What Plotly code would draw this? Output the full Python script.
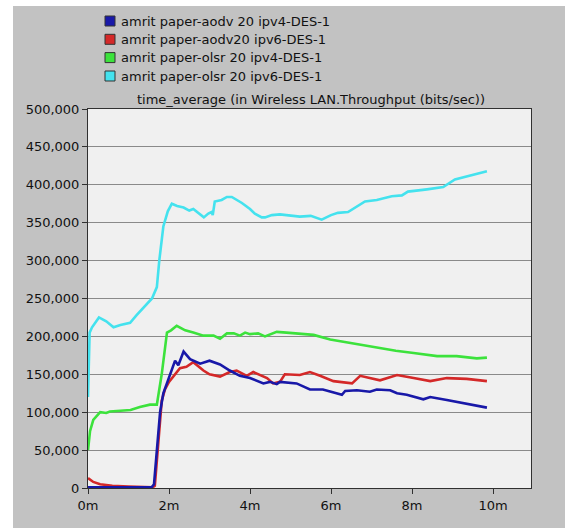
import plotly.graph_objects as go

# ---- data (time in minutes, throughput in bits/sec) ----
series_names = [
    "amrit paper-aodv 20 ipv4-DES-1",
    "amrit paper-aodv20 ipv6-DES-1",
    "amrit paper-olsr 20 ipv4-DES-1",
    "amrit paper-olsr 20 ipv6-DES-1",
]
series_colors = ["#1818a8", "#d42828", "#3ce23c", "#44e2ee"]

aodv_v4_t = [0, 0.5, 1.0, 1.57, 1.63, 1.7, 1.78, 1.86, 1.98, 2.15, 2.23, 2.36, 2.52, 2.77, 3.0,
             3.26, 3.5, 3.75, 4.0, 4.33, 4.49, 4.66, 4.74, 5.15, 5.48, 5.8, 6.27, 6.35, 6.64,
             6.96, 7.13, 7.46, 7.63, 7.87, 8.28, 8.45, 8.86, 9.35, 9.85]
aodv_v4_v = [1000, 1000, 1000, 1000, 5000, 50000, 100000, 125000, 142000, 168000, 162000, 180000,
             170000, 164000, 168000, 163000, 155000, 148000, 145000, 138000, 140000, 137000,
             140000, 138000, 130000, 130000, 123000, 128000, 129000, 127000, 130000, 129000,
             125000, 123000, 117000, 120000, 116000, 111000, 106000]

aodv_v6_t = [0, 0.13, 0.3, 0.6, 1.0, 1.6, 1.65, 1.73, 1.82, 1.9, 2.0, 2.27, 2.43, 2.6, 2.85, 3.0,
             3.26, 3.5, 3.67, 3.92, 4.08, 4.42, 4.57, 4.74, 4.86, 5.23, 5.48, 5.73, 6.06, 6.52,
             6.72, 7.21, 7.63, 8.04, 8.45, 8.86, 9.35, 9.85]
aodv_v6_v = [13000, 8000, 5000, 3000, 2000, 1000, 3000, 60000, 115000, 130000, 140000, 158000,
             160000, 166000, 155000, 150000, 147000, 153000, 155000, 148000, 153000, 145000,
             138000, 140000, 150000, 149000, 153000, 148000, 141000, 138000, 148000, 142000,
             149000, 145000, 141000, 145000, 144000, 141000]

olsr_v4_t = [0, 0.05, 0.13, 0.3, 0.45, 0.54, 0.8, 1.0, 1.05, 1.28, 1.53, 1.7, 1.82, 1.95, 2.05,
             2.19, 2.4, 2.6, 2.85, 3.1, 3.26, 3.43, 3.6, 3.75, 3.88, 4.0, 4.2, 4.37, 4.66, 4.9,
             5.2, 5.57, 5.98, 6.3, 6.72, 7.21, 7.6, 8.04, 8.62, 9.1, 9.6, 9.85]
olsr_v4_v = [50000, 75000, 90000, 100000, 99000, 101000, 102000, 102000, 103000, 107000, 110000,
             110000, 150000, 205000, 208000, 214000, 208000, 205000, 201000, 201000, 197000,
             204000, 204000, 201000, 205000, 203000, 204000, 200000, 206000, 205000, 204000,
             202000, 196000, 193000, 189000, 184000, 181000, 178000, 174000, 174000, 171000,
             172000]

olsr_v6_t = [0, 0.04, 0.1, 0.27, 0.45, 0.63, 0.8, 1.04, 1.2, 1.4, 1.58, 1.7, 1.76, 1.86, 1.97,
             2.07, 2.2, 2.36, 2.5, 2.6, 2.75, 2.86, 2.97, 3.05, 3.08, 3.13, 3.3, 3.43, 3.55, 3.8,
             4.0, 4.12, 4.29, 4.37, 4.54, 4.74, 4.9, 5.23, 5.5, 5.77, 6.0, 6.17, 6.42, 6.6, 6.84,
             7.13, 7.5, 7.75, 7.9, 8.37, 8.77, 9.06, 9.35, 9.6, 9.85]
olsr_v6_v = [120000, 205000, 212000, 225000, 220000, 212000, 215000, 218000, 228000, 240000,
             250000, 265000, 300000, 345000, 365000, 375000, 372000, 370000, 366000, 368000,
             362000, 357000, 362000, 364000, 360000, 378000, 380000, 384000, 384000, 376000,
             368000, 362000, 357000, 357000, 360000, 361000, 360000, 358000, 359000, 354000,
             360000, 363000, 364000, 370000, 378000, 380000, 385000, 386000, 391000, 394000,
             397000, 407000, 411000, 414000, 418000]

x_tick_vals = [0, 2, 4, 6, 8, 10]
x_tick_text = ["0m", "2m", "4m", "6m", "8m", "10m"]
y_tick_vals = [0, 50000, 100000, 150000, 200000, 250000, 300000, 350000, 400000, 450000, 500000]
y_tick_text = ["0", "50,000", "100,000", "150,000", "200,000", "250,000", "300,000",
               "350,000", "400,000", "450,000", "500,000"]
chart_title = "time_average (in Wireless LAN.Throughput (bits/sec))"

# ---- geometry ----
W, H = 567, 528
L, R, T, B = 88, 531, 109, 488
pw, ph = R - L, B - T

def px_x(x):
    return (x - L) / pw

def px_y(y):
    return (B - y) / ph

FONT = "DejaVu Sans, Verdana, sans-serif"
FS = 13

fig = go.Figure()
all_t = [aodv_v4_t, aodv_v6_t, olsr_v4_t, olsr_v6_t]
all_v = [aodv_v4_v, aodv_v6_v, olsr_v4_v, olsr_v6_v]
draw_order = [3, 2, 1, 0]
for i in draw_order:
    fig.add_trace(go.Scatter(x=all_t[i], y=all_v[i], mode="lines", name=series_names[i],
                             line=dict(color=series_colors[i], width=2.6),
                             showlegend=False, hoverinfo="skip"))

white_edge = dict(type="rect", xref="paper", yref="paper", layer="above",
                  fillcolor="white", line=dict(width=0))
shapes = [
    # thin white margins around the gray panel
    dict(white_edge, x0=px_x(0), x1=px_x(W), y0=px_y(6), y1=px_y(-2)),
    dict(white_edge, x0=px_x(-2), x1=px_x(13), y0=px_y(H + 2), y1=px_y(-2)),
    dict(white_edge, x0=px_x(565), x1=px_x(W + 2), y0=px_y(H + 2), y1=px_y(-2)),
]
annotations = [
    dict(text=chart_title, xref="paper", yref="paper", x=px_x(311), y=px_y(99.5),
         xanchor="center", yanchor="middle", showarrow=False,
         font=dict(family=FONT, size=FS, color="#111111")),
]
legend_y = [21, 39.3, 57.6, 76]
for i, name in enumerate(series_names):
    yc = legend_y[i]
    shapes.append(dict(type="rect", xref="paper", yref="paper", layer="above",
                       x0=px_x(105), x1=px_x(115), y0=px_y(yc + 5), y1=px_y(yc - 5),
                       fillcolor=series_colors[i], line=dict(color="#333333", width=1)))
    annotations.append(dict(text=name, xref="paper", yref="paper", x=px_x(119), y=px_y(yc),
                            xanchor="left", yanchor="middle", showarrow=False,
                            font=dict(family=FONT, size=FS, color="#111111")))

fig.update_layout(
    width=W, height=H,
    margin=dict(l=L, r=W - R, t=T, b=H - B, pad=0),
    paper_bgcolor="#c2c2c2",
    plot_bgcolor="#f0f0f0",
    showlegend=False,
    shapes=shapes,
    annotations=annotations,
    font=dict(family=FONT, size=FS, color="#111111"),
    xaxis=dict(range=[0, pw / 40.5], tickvals=x_tick_vals, ticktext=x_tick_text,
               showgrid=False, zeroline=False, showline=True, mirror=True,
               linecolor="#303030", linewidth=1, ticks="outside", ticklen=5,
               tickcolor="#303030", fixedrange=True),
    yaxis=dict(range=[0, 500000], tickvals=y_tick_vals, ticktext=y_tick_text,
               showgrid=True, gridcolor="#8a8a8a", gridwidth=1, zeroline=False,
               showline=True, mirror=True, linecolor="#303030", linewidth=1,
               ticks="outside", ticklen=5, tickcolor="#303030", fixedrange=True),
)

fig.write_html("out.html")
